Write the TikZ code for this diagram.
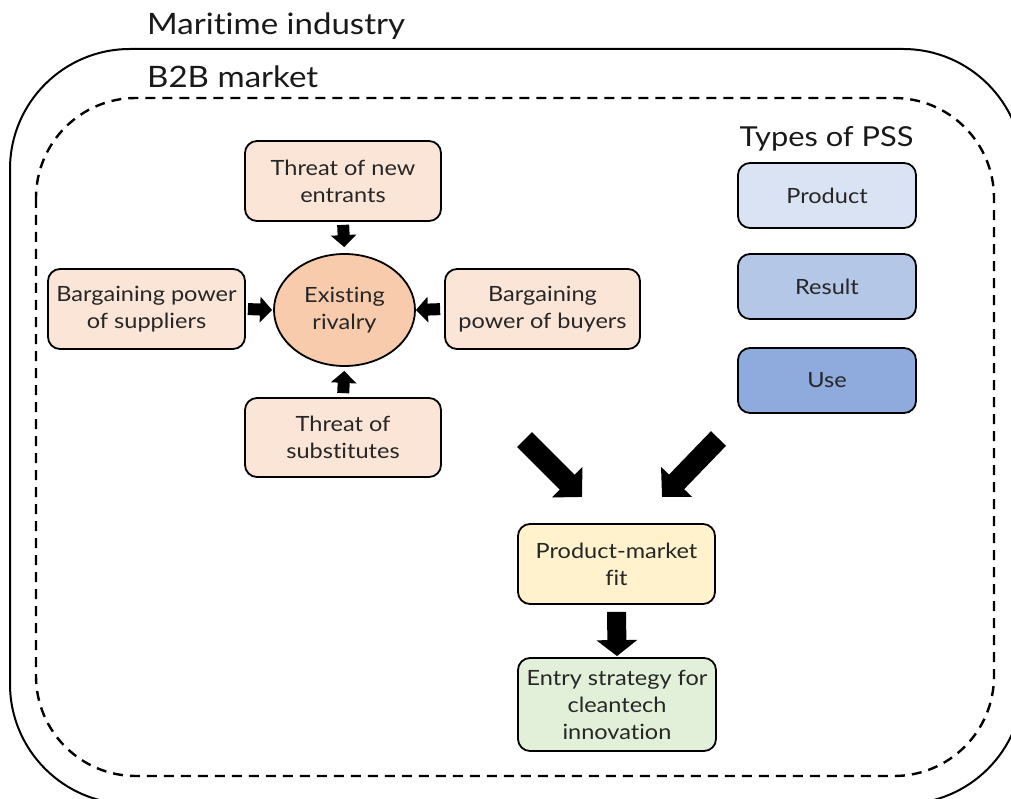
\documentclass[tikz,border=0pt]{standalone}
\usepackage{fontspec}
\setmainfont{Lato}[FakeStretch=1.12, Ligatures={NoCommon}]
\usetikzlibrary{arrows.meta,shapes.geometric}
\definecolor{peach}{HTML}{FBE5D6}
\definecolor{peachdark}{HTML}{F8CBAD}
\definecolor{blueA}{HTML}{DAE3F3}
\definecolor{blueB}{HTML}{B4C7E7}
\definecolor{blueC}{HTML}{8FAADC}
\definecolor{goldA}{HTML}{FFF2CC}
\definecolor{greenA}{HTML}{E2F0D9}
\begin{document}
\begin{tikzpicture}[x=1pt,y=-1pt,
  boxbase/.style={draw, line width=1.8pt, rounded corners=12pt, align=center, inner sep=0pt,
    font=\fontsize{21}{27}\selectfont, text=black!85},
  porter/.style={boxbase, fill=peach, minimum width=196pt, minimum height=80pt},
  psstype/.style={boxbase, minimum width=178pt, minimum height=65pt},
  titletext/.style={font=\fontsize{29.5}{32}\selectfont, anchor=base west, inner sep=0pt, text=black!90},
  smallarrow/.style={line width=12pt, -{Triangle[width=25pt,length=12pt]}},
  bigarrow/.style={line width=21pt, -{Triangle[width=42pt,length=21pt]}},
  downarrow/.style={line width=19pt, -{Triangle[width=40pt,length=16pt]}}
]
\useasboundingbox (0,0) rectangle (1011,799);
\clip (0,0) rectangle (1011,799);

% outer container and inner dashed container
\draw[line width=2pt, rounded corners=120pt] (10,49) rectangle (1023,804);
\draw[line width=2.4pt, dash pattern=on 10pt off 7pt, rounded corners=100pt] (36,98) rectangle (994,776);

\node[titletext] (mi) at (147,35) {Maritime industry};
\node[titletext] (b2b) at (147,88) {B2B market};
\node[font=\fontsize{27.5}{30}\selectfont, anchor=base, inner sep=0pt, text=black!90] (psst) at (826.5,147) {Types of PSS};

% Porter's five forces
\node[porter] (ent) at (343,181) {Threat of new\\entrants};
\node[porter, minimum width=197pt] (sup) at (146.5,309) {Bargaining power\\of suppliers};
\node[boxbase, ellipse, rounded corners=0pt, fill=peachdark, minimum width=141pt, minimum height=112pt] (riv) at (344.5,310) {Existing\\rivalry};
\node[porter, minimum width=195pt] (buy) at (542.5,309) {Bargaining\\power of buyers};
\node[porter, minimum height=79pt] (sub) at (343,437.5) {Threat of\\substitutes};

\draw[smallarrow, shorten <=3pt, shorten >=6pt] (ent.south) -- (riv.north);
\draw[smallarrow, shorten <=2pt, shorten >=1pt] (sup.east) -- (riv.west);
\draw[smallarrow, shorten <=4pt, shorten >=0pt] (buy.west) -- (riv.east);
\draw[smallarrow, shorten <=4pt, shorten >=4pt] (sub.north) -- (riv.south);

% Types of PSS
\node[psstype, fill=blueA] (prod) at (827,195.5) {Product};
\node[psstype, fill=blueB] (res) at (827,286.5) {Result};
\node[psstype, fill=blueC] (use) at (827,380.5) {Use};

% fit and strategy
\node[boxbase, fill=goldA, minimum width=197pt, minimum height=80pt] (pmf) at (616.5,564) {Product-market\\fit};
\node[boxbase, fill=greenA, minimum width=198pt, minimum height=93pt] (entry) at (617,704.5) {Entry strategy for\\cleantech\\innovation};

\coordinate (lt) at (524.5,439.5);
\coordinate (lh) at (582,497);
\coordinate (rt) at (718.5,438.5);
\coordinate (rh) at (662,497);
\draw[bigarrow] (lt) -- (lh);
\draw[bigarrow] (rt) -- (rh);
\draw[downarrow, shorten <=7pt, shorten >=1pt] (pmf.south) -- (entry.north);
\end{tikzpicture}
\end{document}
